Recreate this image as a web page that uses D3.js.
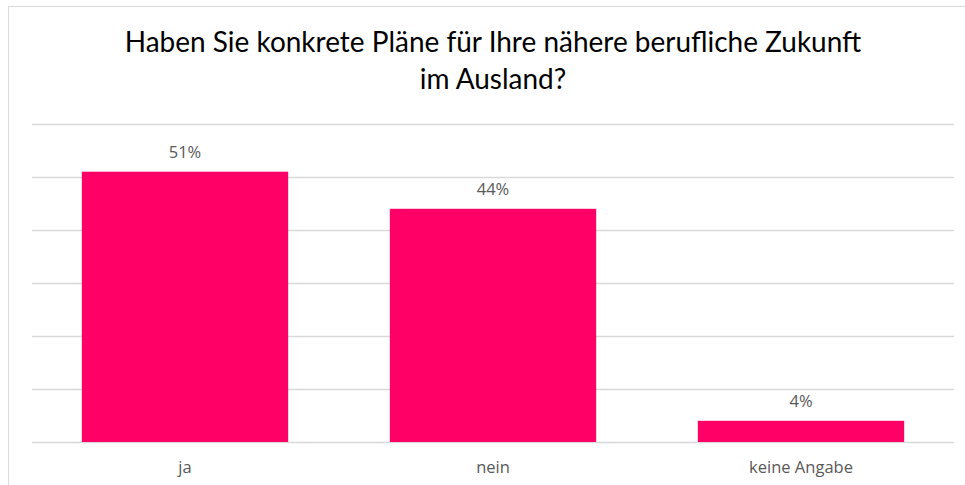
<!DOCTYPE html>
<html><head><meta charset="utf-8">
<script src="https://cdn.jsdelivr.net/npm/d3@7"></script>
<style>body{margin:0;background:#fff}svg{display:block}</style>
</head><body>
<script>
const categories = ["ja", "nein", "keine Angabe"];
const values = [0.51, 0.44, 0.04];
const valueLabels = ["51%", "44%", "4%"];
const gridTicks = [0, 0.1, 0.2, 0.3, 0.4, 0.5, 0.6];
const titleLines = ["Haben Sie konkrete Pläne für Ihre nähere berufliche Zukunft", "im Ausland?"];

const W = 965, H = 485;
const svg = d3.select("body").append("svg").attr("width", W).attr("height", H);
const font = "'Open Sans', sans-serif";
const titleFont = "Lato, 'Open Sans', sans-serif";

svg.append("rect").attr("x", 8.5).attr("y", 6.5).attr("width", W + 10).attr("height", H + 10)
  .attr("fill", "none").attr("stroke", "#d9d9d9");

const x = d3.scaleBand().domain(categories).range([31, 955]).paddingInner(0.33).paddingOuter(0.165);
const y = d3.scaleLinear().domain([0, 0.6]).range([442, 124]);

svg.append("g").selectAll("line").data(gridTicks).join("line")
  .attr("x1", 32).attr("x2", 954)
  .attr("y1", d => Math.round(y(d)) + 0.5).attr("y2", d => Math.round(y(d)) + 0.5)
  .attr("stroke", "#d9d9d9").attr("stroke-width", 1.5);

svg.append("g").selectAll("rect").data(values).join("rect")
  .attr("x", (d, i) => x(categories[i])).attr("width", x.bandwidth())
  .attr("y", d => y(d)).attr("height", d => y(0) - y(d))
  .attr("fill", "#ff0066");

svg.append("g").selectAll("text").data(values).join("text")
  .attr("x", (d, i) => x(categories[i]) + x.bandwidth() / 2)
  .attr("y", d => y(d) - 14)
  .attr("text-anchor", "middle").attr("font-family", font).attr("font-size", 16.5)
  .attr("fill", "#595959").text((d, i) => valueLabels[i]);

svg.append("g").selectAll("text").data(categories).join("text")
  .attr("x", d => x(d) + x.bandwidth() / 2).attr("y", 473)
  .attr("text-anchor", "middle").attr("font-family", font).attr("font-size", 16.5)
  .attr("fill", "#595959").text(d => d);

const t = svg.append("g").selectAll("text").data(titleLines).join("text")
  .attr("x", 493).attr("y", (d, i) => 52 + i * 37)
  .attr("text-anchor", "middle").attr("font-family", titleFont).attr("font-size", 24)
  .attr("fill", "#000").text(d => d);
const len = t.node().getComputedTextLength();
t.attr("font-size", 24 * 737 / len);
</script>
</body></html>
